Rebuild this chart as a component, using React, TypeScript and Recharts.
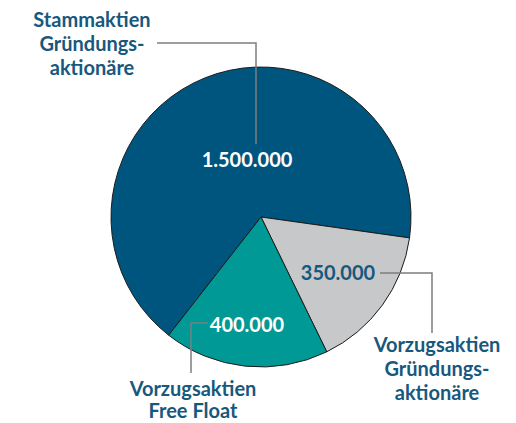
import React from 'react';
import { PieChart, Pie, Cell } from 'recharts';

const categories = ['Stammaktien Gründungsaktionäre', 'Vorzugsaktien Gründungsaktionäre', 'Vorzugsaktien Free Float'];
const nameLines = [
  ['Stammaktien', 'Gründungs-', 'aktionäre'],
  ['Vorzugsaktien', 'Gründungs-', 'aktionäre'],
  ['Vorzugsaktien', 'Free Float'],
];
const shares = [1500000, 350000, 400000];
const colors = ['#00557f', '#c7c8ca', '#009995'];

const data = categories.map((name, i) => ({ name, value: shares[i] }));

const TEXT_BLUE = '#17587e';
const FONT = 'Lato, "Open Sans", sans-serif';

// offsets relative to pie centre
const place = [
  { vx: -14, vy: -50, vFill: '#ffffff', nx: -169, ny: -190, gap: 24, line: [[-104, -174], [-5, -174], [-5, -73]] },
  { vx: 77, vy: 63, vFill: TEXT_BLUE, nx: 176, ny: 135, gap: 24, line: [[119, 56], [171, 56], [171, 116]] },
  { vx: -14, vy: 115, vFill: '#ffffff', nx: -68, ny: 179, gap: 22, line: [[-53, 106], [-70, 106], [-70, 156]] },
];

const fmt = (v: number) => String(v).replace(/\B(?=(\d{3})+(?!\d))/g, '.');

const renderLabel = (props: any) => {
  const { cx, cy, index, value } = props;
  const p = place[index];
  const pts = p.line.map(([x, y]) => `${cx + x},${cy + y}`).join(' ');
  return (
    <g key={`lbl-${index}`}>
      <polyline points={pts} fill="none" stroke="#7d7d7d" strokeWidth={1.5} />
      <text x={cx + p.vx} y={cy + p.vy} textAnchor="middle" fill={p.vFill}
        style={{ fontFamily: FONT, fontWeight: 700, fontSize: 20 }}>
        {fmt(value)}
      </text>
      <text x={cx + p.nx} y={cy + p.ny} textAnchor="middle" fill={TEXT_BLUE}
        style={{ fontFamily: FONT, fontWeight: 700, fontSize: 20 }}>
        {nameLines[index].map((t, j) => (
          <tspan key={j} x={cx + p.nx} dy={j === 0 ? 0 : p.gap}>{t}</tspan>
        ))}
      </text>
    </g>
  );
};

export default function App() {
  return (
    <div style={{ width: 516, height: 423, background: '#fff' }}>
      <style>{`body{margin:0}`}</style>
      <PieChart width={516} height={423} margin={{ top: 0, right: 0, bottom: 0, left: 0 }}>
        <Pie
          data={data}
          dataKey="value"
          nameKey="name"
          cx={261}
          cy={217}
          outerRadius={150}
          startAngle={232}
          endAngle={-128}
          stroke="#1c1c1c"
          strokeWidth={1}
          label={renderLabel}
          labelLine={false}
          isAnimationActive={false}
        >
          {data.map((_, i) => (
            <Cell key={i} fill={colors[i]} />
          ))}
        </Pie>
      </PieChart>
    </div>
  );
}
